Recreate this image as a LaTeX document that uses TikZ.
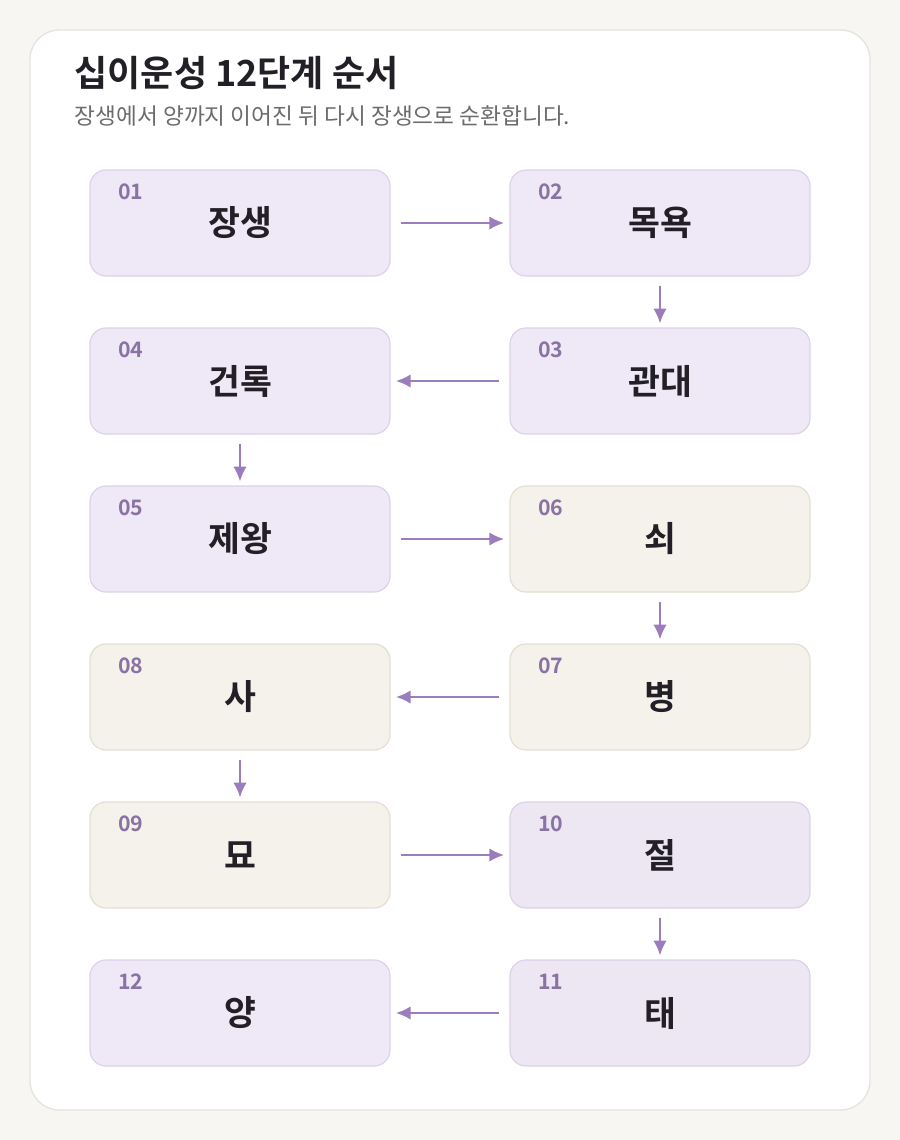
\documentclass[tikz,border=0pt]{standalone}
\usepackage{fontspec}
\setmainfont{Noto Sans CJK KR}
\newfontfamily\kbold{Noto Sans CJK KR Bold}
\usetikzlibrary{positioning}
\usetikzlibrary{arrows.meta}
\definecolor{pagebg}{HTML}{F8F6F2}
\definecolor{cardline}{HTML}{E6E3E0}
\definecolor{lilacfill}{HTML}{EFE8F6}
\definecolor{lilacline}{HTML}{DCD3E8}
\definecolor{sandfill}{HTML}{F5F2EB}
\definecolor{sandline}{HTML}{E4DFD3}
\definecolor{mistfill}{HTML}{ECE7F3}
\definecolor{numcol}{HTML}{8A73A3}
\definecolor{arrowcol}{HTML}{9B7CBC}
\definecolor{inkcol}{HTML}{222026}
\tikzset{
  stage/.style={draw=lilacline, fill=lilacfill, line width=0.9pt, rounded corners=12pt,
    minimum width=300*0.75pt, minimum height=106*0.75pt, inner sep=0pt,
    font=\kbold\fontsize{26}{30}\selectfont, text=inkcol},
  late/.style={draw=sandline, fill=sandfill},
  dusk/.style={fill=mistfill},
  flowarrow/.style={draw=arrowcol, line width=1.6pt, -{Latex[length=11pt,width=10pt]}},
  stagenum/.style={font=\kbold\fontsize{16}{18}\selectfont, text=numcol, anchor=west}
}
\begin{document}
\begin{tikzpicture}[x=0.75pt,y=-0.75pt]
  % page and card
  \fill[pagebg] (0,0) rectangle (900,1140);
  \draw[cardline, fill=white, line width=1pt, rounded corners=22pt] (30,30) rectangle (870,1110);
  \node[anchor=west, font=\kbold\fontsize{27}{30}\selectfont, text=inkcol] (title) at (70,73) {십이운성 12단계 순서};
  \node[anchor=west, font=\fontsize{17}{20}\selectfont, text=gray!85!black] (sub) at (70,116) {장생에서 양까지 이어진 뒤 다시 장생으로 순환합니다.};

  % stages
  \node[stage] (s01) at (240,223) {장생};
  \node[stage] (s02) at (660,223) {목욕};
  \node[stage] (s03) at (660,381) {관대};
  \node[stage] (s04) at (240,381) {건록};
  \node[stage] (s05) at (240,539) {제왕};
  \node[stage, late] (s06) at (660,539) {쇠};
  \node[stage, late] (s07) at (660,697) {병};
  \node[stage, late] (s08) at (240,697) {사};
  \node[stage, late] (s09) at (240,855) {묘};
  \node[stage, dusk] (s10) at (660,855) {절};
  \node[stage, dusk] (s11) at (660,1013) {태};
  \node[stage] (s12) at (240,1013) {양};

  % step numbers
  \foreach \n in {01,02,03,04,05,06,07,08,09,10,11,12}
    \node[stagenum] at ([xshift=18pt,yshift=-17pt]s\n.north west) {\n};

  % flow
  \draw[flowarrow] ([xshift=8pt]s01.east) -- ([xshift=-4pt]s02.west);
  \draw[flowarrow] ([yshift=-7pt]s02.south) -- ([yshift=3pt]s03.north);
  \draw[flowarrow] ([xshift=-8pt]s03.west) -- ([xshift=4pt]s04.east);
  \draw[flowarrow] ([yshift=-7pt]s04.south) -- ([yshift=3pt]s05.north);
  \draw[flowarrow] ([xshift=8pt]s05.east) -- ([xshift=-4pt]s06.west);
  \draw[flowarrow] ([yshift=-7pt]s06.south) -- ([yshift=3pt]s07.north);
  \draw[flowarrow] ([xshift=-8pt]s07.west) -- ([xshift=4pt]s08.east);
  \draw[flowarrow] ([yshift=-7pt]s08.south) -- ([yshift=3pt]s09.north);
  \draw[flowarrow] ([xshift=8pt]s09.east) -- ([xshift=-4pt]s10.west);
  \draw[flowarrow] ([yshift=-7pt]s10.south) -- ([yshift=3pt]s11.north);
  \draw[flowarrow] ([xshift=-8pt]s11.west) -- ([xshift=4pt]s12.east);
\end{tikzpicture}
\end{document}
